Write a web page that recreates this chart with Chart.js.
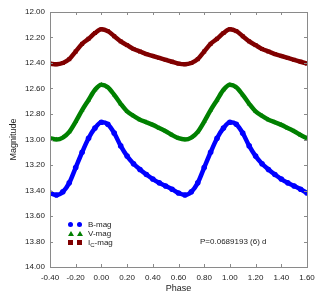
<!DOCTYPE html>
<html>
<head>
<meta charset="utf-8">
<script src="https://cdn.jsdelivr.net/npm/chart.js@4/dist/chart.umd.min.js"></script>
<style>
  body { margin: 0; background: #fff; }
  #wrap { position: relative; width: 327px; height: 305px; font-family: "Liberation Sans", Arial, sans-serif; color: #222; }
  #chart { position: absolute; left: 0; top: 0; }
  .leg { position: absolute; left: 66px; font-size: 8px; line-height: 9px; }
  .leg .m { position: absolute; top: 2px; }
  .leg .t { position: absolute; left: 22px; top: 0; white-space: nowrap; }
  .dot { width: 5px; height: 5px; border-radius: 50%; background: #0000ff; }
  .tri { width: 0; height: 0; border-left: 3px solid transparent; border-right: 3px solid transparent; border-bottom: 5px solid #008000; }
  .sq { width: 5px; height: 5px; background: #800000; }
  sub { font-size: 6px; vertical-align: -2px; line-height: 0; }
  #period { position: absolute; left: 200px; top: 237px; font-size: 8px; white-space: nowrap; }
</style>
</head>
<body>
<div id="wrap">
  <canvas id="chart" width="327" height="305"></canvas>
  <div class="leg" style="top:220px"><span class="m dot" style="left:2px"></span><span class="m dot" style="left:11px"></span><span class="t">B-mag</span></div>
  <div class="leg" style="top:229px"><span class="m tri" style="left:2px"></span><span class="m tri" style="left:11px"></span><span class="t">V-mag</span></div>
  <div class="leg" style="top:238px"><span class="m sq" style="left:2px"></span><span class="m sq" style="left:11px"></span><span class="t">I<sub>C</sub>-mag</span></div>
  <div id="period">P=0.0689193 (6) d</div>
</div>
<script>
// one cycle of the folded light curve
const cyclePhase = [0.00, 0.05, 0.10, 0.15, 0.20, 0.25, 0.30, 0.35, 0.40, 0.45,
                    0.50, 0.55, 0.60, 0.65, 0.70, 0.75, 0.80, 0.85, 0.90, 0.95];
const bMag = [12.865, 12.88, 12.95, 13.05, 13.13, 13.19, 13.235, 13.275, 13.31, 13.34,
              13.365, 13.39, 13.42, 13.435, 13.41, 13.34, 13.22, 13.10, 12.99, 12.91];
const vMag = [12.57, 12.59, 12.65, 12.72, 12.78, 12.815, 12.845, 12.865, 12.885, 12.91,
              12.935, 12.965, 12.99, 13.00, 12.985, 12.94, 12.86, 12.77, 12.69, 12.61];
const iMag = [12.135, 12.15, 12.19, 12.23, 12.26, 12.29, 12.31, 12.33, 12.345, 12.36,
              12.375, 12.39, 12.405, 12.41, 12.40, 12.37, 12.31, 12.25, 12.21, 12.165];

const xTicks = [-0.4, -0.2, 0, 0.2, 0.4, 0.6, 0.8, 1.0, 1.2, 1.4, 1.6];
const yTicks = [12.0, 12.2, 12.4, 12.6, 12.8, 13.0, 13.2, 13.4, 13.6, 13.8, 14.0];

// phase diagram is plotted over two cycles (-0.4 .. 1.6)
function fold(mags) {
    const pts = [];
    for (const k of [-1, 0, 1]) {
        cyclePhase.forEach((p, i) => {
            const x = +(p + k).toFixed(3);
            if (x >= -0.4 && x <= 1.6) pts.push({ x: x, y: mags[i] });
        });
    }
    return pts.sort((a, b) => a.x - b.x);
}

const fmt = v => (Math.abs(v) < 1e-9 ? 0 : v).toFixed(2);

// frame with inward ticks on all four sides
const frame = {
    id: 'frame',
    afterDraw(chart) {
        const { ctx, chartArea: a, scales } = chart;
        ctx.save();
        ctx.strokeStyle = '#8a8a8a';
        ctx.lineWidth = 1;
        ctx.strokeRect(a.left + 0.5, a.top + 0.5, a.right - a.left, a.bottom - a.top);
        ctx.beginPath();
        xTicks.forEach(t => {
            const px = Math.round(scales.x.getPixelForValue(t)) + 0.5;
            ctx.moveTo(px, a.bottom); ctx.lineTo(px, a.bottom - 3);
            ctx.moveTo(px, a.top); ctx.lineTo(px, a.top + 3);
        });
        yTicks.forEach(t => {
            const py = Math.round(scales.y.getPixelForValue(t)) + 0.5;
            ctx.moveTo(a.left, py); ctx.lineTo(a.left + 3, py);
            ctx.moveTo(a.right, py); ctx.lineTo(a.right - 3, py);
        });
        ctx.stroke();
        ctx.restore();
    }
};

function series(label, mags, color, style) {
    return {
        label: label,
        data: fold(mags),
        borderColor: color,
        backgroundColor: color,
        borderWidth: 4.5,
        pointStyle: style,
        pointRadius: 2.8,
        pointBorderWidth: 0,
        cubicInterpolationMode: 'monotone',
        showLine: true
    };
}

const tickFont = { family: 'Liberation Sans', size: 8 };
const titleFont = { family: 'Liberation Sans', size: 9 };

new Chart(document.getElementById('chart'), {
    type: 'scatter',
    data: {
        datasets: [
            series('Ic-mag', iMag, '#800000', 'rect'),
            series('V-mag', vMag, '#008000', 'triangle'),
            series('B-mag', bMag, '#0000ff', 'circle')
        ]
    },
    options: {
        responsive: false,
        animation: false,
        layout: { padding: { top: 12, right: 20, left: 0, bottom: 0 } },
        plugins: { legend: { display: false }, tooltip: { enabled: false } },
        scales: {
            x: {
                type: 'linear', min: -0.4, max: 1.6,
                grid: { display: false, drawTicks: false, tickLength: 0 }, border: { display: false },
                afterBuildTicks: s => { s.ticks = xTicks.map(v => ({ value: v })); },
                afterFit: s => { s.height = 38; },
                ticks: { font: tickFont, color: '#222', padding: 6, maxRotation: 0, callback: fmt },
                title: { display: true, text: 'Phase', font: titleFont, color: '#222', padding: { bottom: 11 } }
            },
            y: {
                type: 'linear', min: 12, max: 14, reverse: true,
                grid: { display: false, drawTicks: false, tickLength: 0 }, border: { display: false },
                afterBuildTicks: s => { s.ticks = yTicks.map(v => ({ value: v })); },
                afterFit: s => { s.width = 50; },
                ticks: { font: tickFont, color: '#222', padding: 5, callback: fmt },
                title: { display: true, text: 'Magnitude', font: titleFont, color: '#222', padding: { top: 8 } }
            }
        }
    },
    plugins: [frame]
});
</script>
</body>
</html>
